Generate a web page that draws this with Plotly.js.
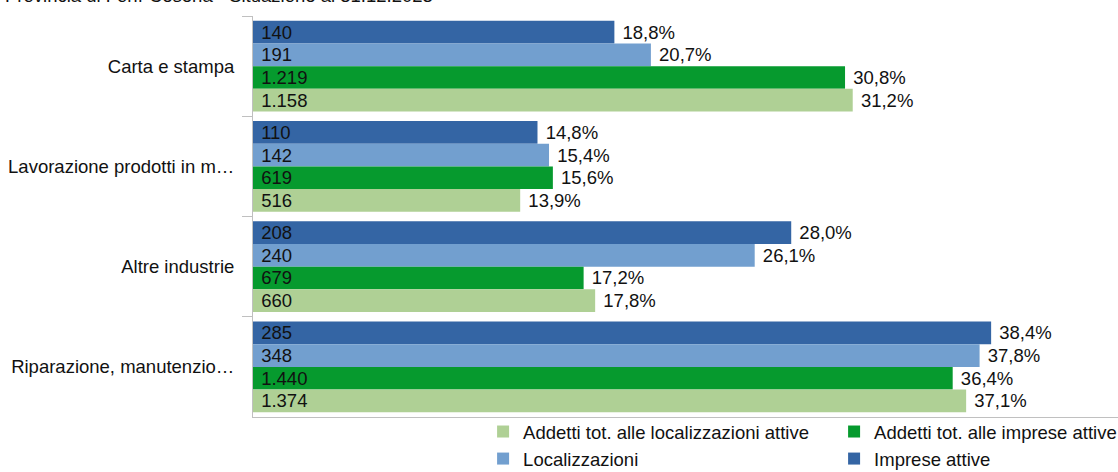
<!DOCTYPE html>
<html>
<head>
<meta charset="utf-8">
<script src="https://cdn.plot.ly/plotly-3.0.1.min.js"></script>
<style>html,body{margin:0;padding:0;background:#fff;}#chart{width:1118px;height:472px;}</style>
</head>
<body>
<div id="chart"></div>
<script>
const categories = ['Carta e stampa', 'Lavorazione prodotti in m…', 'Altre industrie', 'Riparazione, manutenzio…'];
const titleText = 'Provincia di Forlì-Cesena - Situazione al 31.12.2023';

const impreseCount = [140, 110, 208, 285];
const impresePct = [18.8, 14.8, 28.0, 38.4];
const localizzCount = [191, 142, 240, 348];
const localizzPct = [20.7, 15.4, 26.1, 37.8];
const addImpCount = [1219, 619, 679, 1440];
const addImpPct = [30.8, 15.6, 17.2, 36.4];
const addLocCount = [1158, 516, 660, 1374];
const addLocPct = [31.2, 13.9, 17.8, 37.1];

const FONT = '"Liberation Sans", Arial, sans-serif';
const FS = 18.5;

const series = [
  {name: 'Imprese attive', count: impreseCount, pct: impresePct, color: '#3465a4'},
  {name: 'Localizzazioni', count: localizzCount, pct: localizzPct, color: '#729fcf'},
  {name: 'Addetti tot. alle imprese attive', count: addImpCount, pct: addImpPct, color: '#069a2e'},
  {name: 'Addetti tot. alle localizzazioni attive', count: addLocCount, pct: addLocPct, color: '#afd095'}
];

const data = [];
series.forEach((s, i) => {
  data.push({
    type: 'bar', orientation: 'h', name: s.name,
    y: categories, x: s.pct, customdata: s.count,
    offsetgroup: 'g' + i,
    marker: {color: s.color, line: {width: 0}},
    texttemplate: '\u00a0%{customdata:,}', textposition: 'inside', insidetextanchor: 'start',
    insidetextfont: {family: FONT, size: FS, color: '#111'},
    constraintext: 'none', hoverinfo: 'skip'
  });
  data.push({
    type: 'bar', orientation: 'h', name: s.name + ' %', showlegend: false,
    y: categories, x: s.pct,
    offsetgroup: 'g' + i,
    marker: {color: 'rgba(0,0,0,0)', line: {width: 0}},
    texttemplate: '\u00a0%{x:.1f}%', textposition: 'outside',
    outsidetextfont: {family: FONT, size: FS, color: '#111'},
    constraintext: 'none', cliponaxis: false, hoverinfo: 'skip'
  });
});

const layout = {
  width: 1118, height: 472,
  margin: {l: 253, r: 0, t: 16, b: 55, pad: 0, autoexpand: false},
  paper_bgcolor: '#fff', plot_bgcolor: '#fff',
  separators: ',.',
  font: {family: FONT, size: FS, color: '#111'},
  barmode: 'group', bargap: 0.095, bargroupgap: 0,
  showlegend: true,
  xaxis: {range: [0, 45], showticklabels: false, showgrid: false, zeroline: false,
          showline: true, linecolor: '#c0c0c0', linewidth: 1, ticks: '', fixedrange: true},
  yaxis: {type: 'category', autorange: 'reversed', showgrid: false, zeroline: false,
          showline: true, linecolor: '#c0c0c0', linewidth: 1,
          ticks: 'outside', tickson: 'boundaries', ticklen: 10, tickcolor: '#c0c0c0', tickwidth: 1,
          ticklabelstandoff: 14, tickfont: {family: FONT, size: FS, color: '#111'}},
  legend: {orientation: 'h', traceorder: 'reversed', x: 0.266, xanchor: 'left', y: 0.01, yanchor: 'top',
           entrywidth: 306, entrywidthmode: 'pixels', font: {family: FONT, size: FS, color: '#111'},
           bgcolor: 'rgba(0,0,0,0)', borderwidth: 0, itemclick: false, itemdoubleclick: false},
  annotations: [{text: titleText, xref: 'paper', yref: 'paper', x: 0, y: 1, xanchor: 'left', yanchor: 'bottom',
                 xshift: -250, yshift: 8, showarrow: false, font: {family: FONT, size: FS, color: '#111'}}]
};

Plotly.newPlot('chart', data, layout, {staticPlot: true, displayModeBar: false});
</script>
</body>
</html>
